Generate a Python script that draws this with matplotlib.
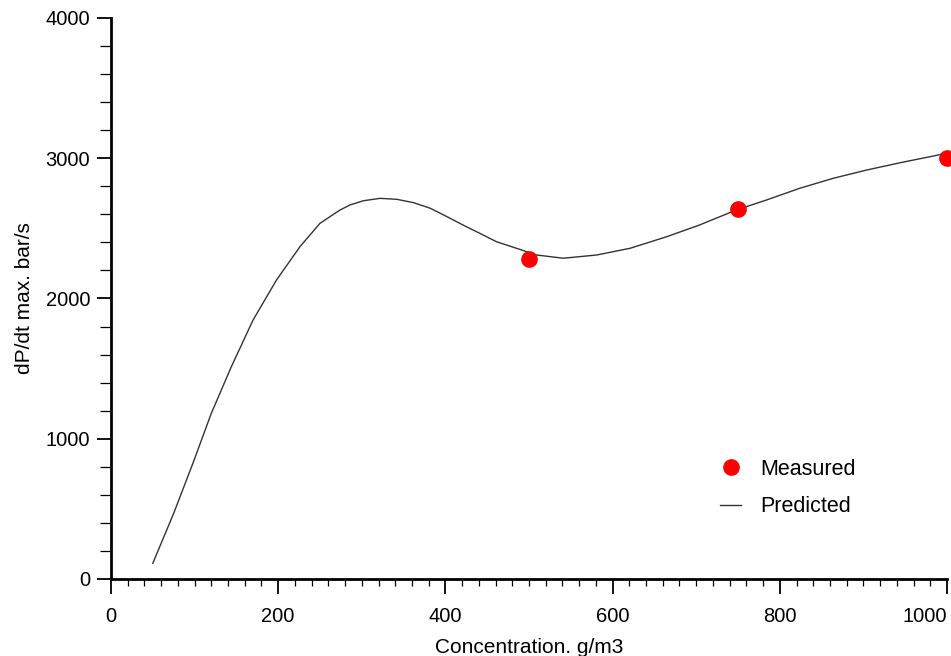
import matplotlib.pyplot as plt
from matplotlib.ticker import MultipleLocator

plt.rcParams['font.family'] = ['Liberation Sans', 'DejaVu Sans']

# measured points
conc_meas = [500, 750, 1000]
dpdt_meas = [2280, 2635, 3000]

# predicted curve
conc_pred = [50, 75, 98, 120, 144, 170, 198, 226, 250, 274, 286, 302, 322, 342,
             362, 382, 402, 421, 441, 461, 485, 509, 541, 581, 621, 665, 704,
             748, 784, 824, 864, 904, 944, 984, 1002]
dpdt_pred = [112, 468, 825, 1181, 1514, 1847, 2132, 2369, 2536, 2631, 2667, 2697,
             2714, 2707, 2683, 2643, 2583, 2524, 2465, 2405, 2358, 2310, 2287,
             2310, 2358, 2441, 2524, 2631, 2702, 2786, 2857, 2916, 2968, 3016, 3040]

x_ticks = [0, 200, 400, 600, 800, 1000]

fig = plt.figure(figsize=(9.51, 6.56), dpi=100)
ax = fig.add_axes([0.1167, 0.1174, 0.8791, 0.8552])

ax.plot(conc_pred, dpdt_pred, color='#333333', lw=1.0, label='Predicted')
ax.plot(conc_meas, dpdt_meas, 'o', color='#ff0000', ms=11, clip_on=False,
        label='Measured', zorder=5)

ax.set_xlim(0, 1000)
ax.set_ylim(0, 4000)
ax.set_xticks(x_ticks)
ax.set_xticklabels([str(v) for v in x_ticks])
ax.xaxis.set_minor_locator(MultipleLocator(20))
ax.yaxis.set_major_locator(MultipleLocator(1000))
ax.yaxis.set_minor_locator(MultipleLocator(200))

for s in ['top', 'right']:
    ax.spines[s].set_visible(False)
for s in ['left', 'bottom']:
    ax.spines[s].set_linewidth(2)

ax.tick_params(axis='x', which='major', direction='out', length=11, width=1.3, pad=9, labelsize=14.5)
ax.tick_params(axis='x', which='minor', direction='out', length=5, width=0.9)
ax.tick_params(axis='y', which='major', direction='out', length=10, width=1.3, pad=5, labelsize=14.5)
ax.tick_params(axis='y', which='minor', direction='out', length=8, width=0.9)

# last label sits flush with the right edge, like the original
ax.get_xticklabels()[-1].set_horizontalalignment('right')

ax.set_xlabel('Concentration. g/m3', fontsize=15, labelpad=9)
ax.set_ylabel('dP/dt max. bar/s', fontsize=15, labelpad=8)

h, l = ax.get_legend_handles_labels()
ax.legend([h[1], h[0]], [l[1], l[0]], loc='center left', bbox_to_anchor=(0.705, 0.162),
          frameon=False, fontsize=15.5, handlelength=1.0, handletextpad=0.9,
          labelspacing=0.75)

fig.savefig('out.png', dpi=100)
